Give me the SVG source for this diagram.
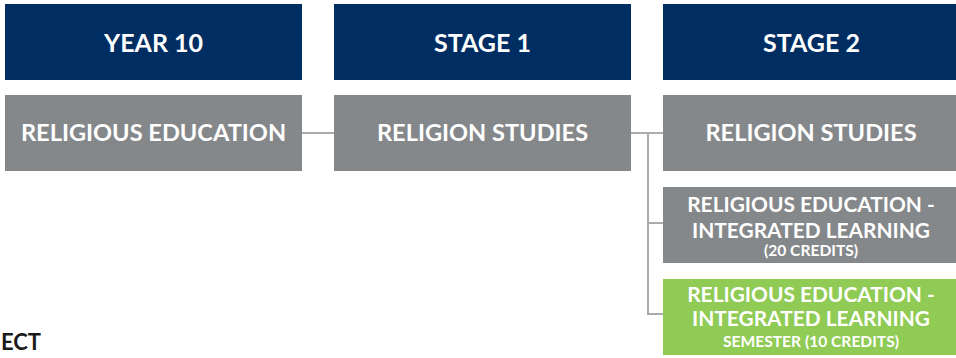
<svg xmlns="http://www.w3.org/2000/svg" width="956" height="358" viewBox="0 0 956 358">
  <style>
    .hdr { fill: #002e62; }
    .box { fill: #85888b; }
    .opt { fill: #8fcb55; }
    .t { font-family: Lato, "Open Sans", "Liberation Sans", sans-serif; font-weight: 700; fill: #ffffff; text-anchor: middle; }
    .h { font-size: 25px; }
    .m { font-size: 23.6px; }
    .s { font-size: 20.9px; }
    .xs { font-size: 15.6px; }
    .link { stroke: #a9abad; stroke-width: 2; fill: none; }
  </style>

  <!-- column headers -->
  <g id="year10">
    <rect class="hdr" x="5" y="4" width="297" height="76"/>
    <text class="t h" x="153.5" y="52">YEAR 10</text>
  </g>
  <g id="stage1">
    <rect class="hdr" x="334" y="4" width="297" height="76"/>
    <text class="t h" x="482.5" y="52">STAGE 1</text>
  </g>
  <g id="stage2">
    <rect class="hdr" x="663" y="4" width="297" height="76"/>
    <text class="t h" x="811.5" y="52">STAGE 2</text>
  </g>

  <!-- connectors -->
  <g id="connectors">
    <path class="link" d="M302 133 H334"/>
    <path class="link" d="M631 133 H663"/>
    <path class="link" d="M648 133 V314 H663 M648 223 H663"/>
  </g>

  <!-- subjects -->
  <g id="re-year10">
    <rect class="box" x="5" y="95" width="297" height="76"/>
    <text class="t m" x="153.5" y="141">RELIGIOUS EDUCATION</text>
  </g>
  <g id="rs-stage1">
    <rect class="box" x="334" y="95" width="297" height="76"/>
    <text class="t m" x="482.5" y="141">RELIGION STUDIES</text>
  </g>
  <g id="rs-stage2">
    <rect class="box" x="663" y="95" width="297" height="76"/>
    <text class="t m" x="811" y="141">RELIGION STUDIES</text>
  </g>
  <g id="reil-20">
    <rect class="box" x="663" y="187" width="297" height="76"/>
    <text class="t s" x="811" y="212">RELIGIOUS EDUCATION -</text>
    <text class="t s" x="811" y="237.5">INTEGRATED LEARNING</text>
    <text class="t xs" x="811" y="256">(20 CREDITS)</text>
  </g>
  <g id="reil-10">
    <rect class="opt" x="663" y="279" width="297" height="76"/>
    <text class="t s" x="811" y="302">RELIGIOUS EDUCATION -</text>
    <text class="t s" x="811" y="325.5">INTEGRATED LEARNING</text>
    <text class="t xs" x="811" y="347">SEMESTER (10 CREDITS)</text>
  </g>

  <text x="1" y="350" font-family="Lato, 'Open Sans', 'Liberation Sans', sans-serif" font-weight="700" font-size="22" fill="#1a1a1a">ECT</text>
</svg>
